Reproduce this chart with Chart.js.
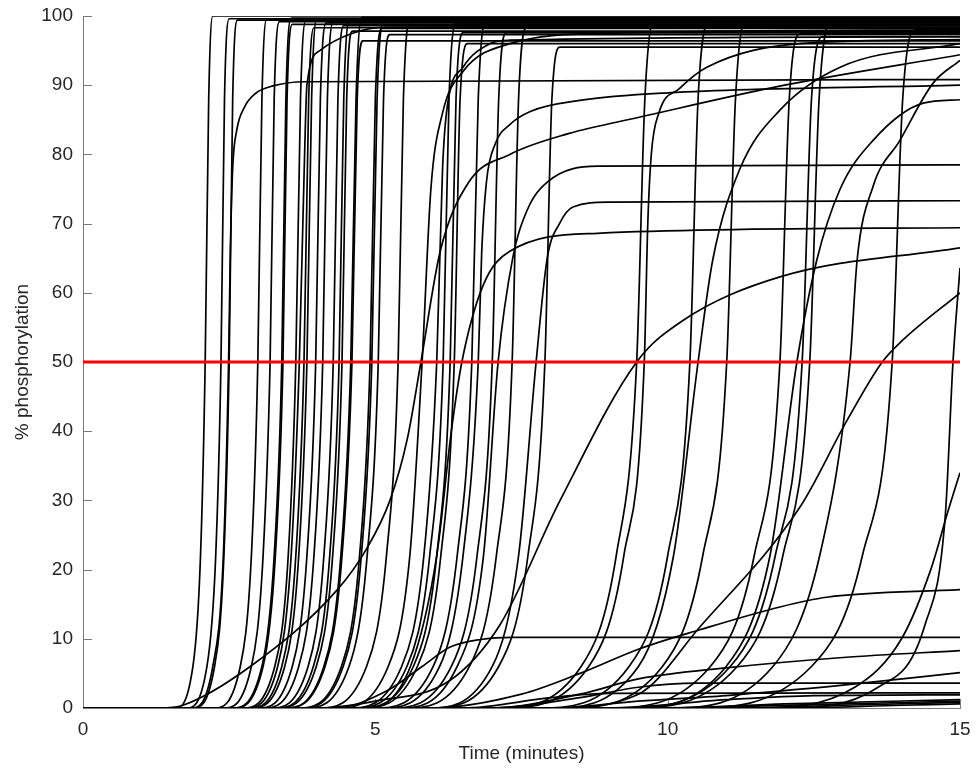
<!DOCTYPE html>
<html>
<head>
<meta charset="utf-8">
<script src="https://cdn.jsdelivr.net/npm/chart.js@4.4.1/dist/chart.umd.min.js"></script>
<style>
  html, body { margin: 0; padding: 0; background: #fff; }
</style>
</head>
<body>
<canvas id="myChart" width="977" height="771"></canvas>
<script>
// axis settings
var xTickValues = [0, 5, 10, 15]
var yTickValues = [0, 10, 20, 30, 40, 50, 60, 70, 80, 90, 100]
var threshold = 50

// each curve is a list of [time (min), % phosphorylation]

// fast switches that go all the way up (sharp top)
var sharpCurves = [
  [[0,0],[1.57,0],[1.88,6],[2.01,22],[2.09,50],[2.15,88],[2.22,100],[15,100]],
  [[0,0],[1.77,0],[2.12,6],[2.27,22],[2.36,50],[2.42,88],[2.50,99.6],[15,99.6]],
  [[0,0],[1.88,0],[2.25,6],[2.41,22],[2.50,50],[2.56,88],[2.64,99.4],[15,99.4]],
  [[0,0],[2.24,0],[2.69,6],[2.88,22],[2.99,50],[3.06,88],[3.14,99.5],[15,99.5]],
  [[0,0],[2.40,0],[2.88,6],[3.08,22],[3.20,50],[3.27,88],[3.36,99.2],[15,99.2]],
  [[0,0],[2.55,0],[3.06,6],[3.27,22],[3.40,50],[3.47,88],[3.56,99.7],[15,99.7]],
  [[0,0],[2.57,0],[3.08,6],[3.29,22],[3.42,50],[3.49,88],[3.58,98.8],[15,98.8]],
  [[0,0],[2.73,0],[3.28,6],[3.51,22],[3.64,50],[3.72,88],[3.81,99.3],[15,99.3]],
  [[0,0],[2.84,0],[3.40,6],[3.64,22],[3.78,50],[3.86,88],[3.95,98.3],[15,98.3]],
  [[0,0],[2.87,0],[3.45,6],[3.69,22],[3.83,50],[3.91,88],[4.00,99.6],[15,99.6]],
  [[0,0],[2.99,0],[3.58,6],[3.83,22],[3.98,50],[4.06,88],[4.16,99.0],[15,99.0]],
  [[0,0],[3.08,0],[3.69,6],[3.95,22],[4.10,50],[4.18,88],[4.28,99.1],[15,99.1]],
  [[0,0],[3.21,0],[3.85,6],[4.12,22],[4.28,50],[4.36,88],[4.46,98.6],[15,98.6]],
  [[0,0],[3.29,0],[3.94,6],[4.22,22],[4.38,50],[4.46,88],[4.56,99.4],[15,99.4]],
  [[0,0],[3.32,0],[3.99,6],[4.27,22],[4.43,50],[4.51,88],[4.61,97.8],[15,97.8]],
  [[0,0],[3.44,0],[4.12,6],[4.41,22],[4.58,50],[4.67,88],[4.77,99.8],[15,99.8]],
  [[0,0],[3.45,0],[4.14,6],[4.43,22],[4.60,50],[4.69,88],[4.79,96.4],[15,96.4]],
  [[0,0],[3.68,0],[4.42,6],[4.73,22],[4.91,50],[5.00,88],[5.11,98.2],[15,98.2]],
  [[0,0],[3.71,0],[4.45,6],[4.76,22],[4.94,50],[5.03,88],[5.14,99.2],[15,99.2]],
  [[0,0],[3.79,0],[4.55,6],[4.86,22],[5.05,50],[5.14,88],[5.25,97.3],[15,97.3]],
  [[0,0],[4.04,0],[4.85,6],[5.19,22],[5.39,50],[5.48,88],[5.60,99.6],[15,99.6]],
  [[0,0],[4.62,0],[5.54,6],[5.93,22],[6.16,50],[6.26,88],[6.38,99.0],[15,99.0]],
  [[0,0],[4.71,0],[5.65,6],[6.05,22],[6.28,50],[6.38,88],[6.51,97.6],[15,97.6]],
  [[0,0],[4.76,0],[5.72,6],[6.12,22],[6.35,50],[6.45,88],[6.58,96.0],[15,96.0]],
  [[0,0],[4.99,0],[5.99,6],[6.40,22],[6.65,50],[6.76,88],[6.89,99.3],[15,99.3]],
  [[0,0],[5.25,0],[6.30,6],[6.74,22],[7.00,50],[7.11,88],[7.24,97.6],[15,97.6]],
  [[0,0],[5.51,0],[6.61,6],[7.07,22],[7.34,50],[7.45,88],[7.59,98.4],[15,98.4]],
  [[0,0],[5.93,0],[7.11,6],[7.61,22],[7.90,50],[8.02,88],[8.16,95.5],[15,95.5]],
  [[0,0],[7.10,0],[8.52,6],[9.12,22],[9.47,50],[9.61,88],[9.77,99.4],[15,99.4]],
  [[0,0],[7.79,0],[9.34,6],[10.00,22],[10.38,50],[10.52,88],[10.70,99.0],[15,99.0]],
  [[0,0],[8.26,0],[9.91,6],[10.60,22],[11.01,50],[11.16,88],[11.34,99.5],[15,99.5]],
  [[0,0],[8.94,0],[10.73,6],[11.48,22],[11.92,50],[12.08,88],[12.27,97.5],[15,97.5]],
  [[0,0],[9.23,0],[11.07,6],[11.84,22],[12.30,50],[12.46,88],[12.66,97.0],[15,97.0]],
  [[0,0],[9.32,0],[11.19,6],[11.97,22],[12.43,50],[12.59,88],[12.79,99.2],[15,99.2]],
  [[0,0],[10.38,0],[12.46,6],[13.33,22],[13.84,50],[14.02,88],[14.23,98.0],[15,98.0]]
]

// switches with a rounded top / lower plateau
var softCurves = [
  [[0,0],[1.85,0],[2.22,6],[2.40,22],[2.49,50],[2.52,66],[2.56,78],[2.63,83.5],[2.76,86.8],[2.95,88.8],[3.25,89.9],[3.80,90.5],[15,90.8]],
  [[0,0],[2.78,0],[3.33,6],[3.56,22],[3.70,50],[3.79,80],[3.83,90],[4.05,95],[4.61,97.5],[5.18,98.4],[15,98.6]],
  [[0,0],[4.35,0],[5.22,6],[5.59,22],[5.80,50],[5.95,75],[6.15,86],[6.50,92],[7.30,96],[9.00,97.5],[15,98]],
  [[0,0],[4.55,0],[5.45,6],[5.83,22],[6.05,50],[6.15,78],[6.23,86.9],[6.50,92.6],[6.96,96],[7.30,96.5],[15,97]],
  [[0,0],[4.80,0],[5.60,6],[6.05,22],[6.30,40],[6.48,50],[6.84,61],[7.30,66],[8.80,68.6],[15,69.4]],
  [[0,0],[5.10,0],[6.10,6],[6.50,22],[6.76,50],[6.82,66],[6.90,76],[7.05,81.5],[7.30,84.3],[7.65,86.2],[8.50,87.8],[10.0,88.9],[15,90]],
  [[0,0],[5.40,0],[6.40,6],[6.85,22],[7.10,50],[7.35,65],[7.60,72],[7.94,76],[8.80,78.3],[15,78.5]],
  [[0,0],[5.90,0],[7.00,6],[7.45,22],[7.75,50],[7.94,65],[8.15,70],[8.38,72.4],[9.00,73.1],[15,73.3]],
  [[0,0],[7.20,0],[8.65,6],[9.25,22],[9.60,50],[9.66,70],[9.72,80],[9.85,86],[10.2,89.5],[10.67,92.6],[12.26,96],[15,96.6]],
  [[0,0],[8.00,0],[9.50,6],[10.10,22],[10.52,50],[10.77,64.7],[11.24,78],[11.92,86.4],[12.95,92.6],[15,96]],
  [[0,0],[9.30,0],[11.0,6],[11.75,22],[12.21,50],[12.55,64.7],[12.95,75],[13.51,82],[14.37,87.4],[15,87.9]],
  [[0,0],[10.0,0],[11.8,6],[12.6,22],[13.12,50],[13.24,64.7],[13.51,75.3],[13.97,82],[14.54,90.3],[15,93.6]]
]

// slow, graded responses
var shallowCurves = [
  [[0,0],[1.30,0],[1.71,0.4],[2.86,6],[4.34,17],[4.85,23],[5.25,30],[5.55,39],[5.78,50],[6.11,66],[6.60,76],[7.30,80],[8.30,83],[9.53,85.4],[12.0,90],[15,94.4]],
  [[0,0],[4.00,0],[5.00,1],[6.28,4],[7.13,12],[8.16,30],[9.47,50],[10.26,56],[11.92,62.3],[15,66.5]],
  [[0,0],[8.00,0],[9.50,2],[10.55,11.7],[12.26,29],[13.07,41.6],[13.67,50],[14.0,53],[15,60]],
  [[0,0],[12.0,0],[13.6,3],[14.4,12],[14.75,28],[14.88,50],[15,63.6]],
  [[0,0],[11.5,0],[13.2,3],[14.0,10],[14.5,20],[14.8,28.6],[15,34]]
]

// curves that stay low
var lowCurves = [
  [[0,0],[6.0,0],[7.5,2],[8.5,5],[9.5,8.5],[10.55,11.3],[11.92,14.6],[12.72,16],[15,17.1]],
  [[0,0],[4.3,0],[5.2,2.5],[5.8,6],[6.28,8.8],[6.8,9.9],[7.35,10.2],[15,10.2]],
  [[0,0],[7.0,0],[8.5,2],[9.5,4.2],[11.0,5.8],[13.0,7.3],[15,8.3]],
  [[0,0],[8.0,0],[9.5,1],[11.0,1.8],[13.0,3.3],[15,5.1]],
  [[0,0],[7.0,0],[8.5,1.5],[9.5,3],[10.5,3.6],[15,3.6]],
  [[0,0],[6.5,0],[8.0,1.5],[9.0,2.1],[15,2.2]],
  [[0,0],[9.0,0],[11.0,1.2],[12.5,1.8],[15,1.9]],
  [[0,0],[10.0,0],[12.0,0.6],[15,1.2]],
  [[0,0],[11.0,0],[13.0,0.4],[15,0.8]],
  [[0,0],[9.5,0],[12.5,0.5],[15,1.0]],
  [[0,0],[12.0,0],[14.0,0.4],[15,0.6]]
]

var textColor = '#262626'
var axisColor = '#7a7a7a'
var fontFamily = '"Liberation Sans", Arial, Helvetica, sans-serif'

function toPoints(curve) {
  return curve.map(function (p) { return { x: p[0], y: p[1] } })
}

var datasets = []
datasets.push({
  label: 'threshold',
  data: [{ x: 0, y: threshold }, { x: 15, y: threshold }],
  borderColor: '#ff0000',
  borderWidth: 3.2,
  order: -1,
})
var allCurves = sharpCurves.concat(softCurves, shallowCurves, lowCurves)
allCurves.forEach(function (c, i) {
  datasets.push({
    label: 'cell ' + (i + 1),
    data: toPoints(c),
    borderColor: '#000000',
    borderWidth: 1.7,
  })
})

// little inward ticks like the original plot
var inwardTicks = {
  id: 'inwardTicks',
  beforeDatasetsDraw(chart) {
    var ctx = chart.ctx, area = chart.chartArea
    var xs = chart.scales.x, ys = chart.scales.y
    ctx.save()
    ctx.strokeStyle = axisColor
    ctx.lineWidth = 1
    ctx.beginPath()
    yTickValues.forEach(function (v) {
      var py = Math.round(ys.getPixelForValue(v)) + 0.5
      ctx.moveTo(area.left, py)
      ctx.lineTo(area.left + 9, py)
    })
    xTickValues.forEach(function (v) {
      var px = Math.round(xs.getPixelForValue(v)) + 0.5
      ctx.moveTo(px, area.bottom)
      ctx.lineTo(px, area.bottom - 9)
    })
    ctx.stroke()
    ctx.restore()
  },
}

var ctx = document.getElementById('myChart').getContext('2d')
var myChart = new Chart(ctx, {
  type: 'line',
  data: { datasets: datasets },
  options: {
    responsive: false,
    animation: false,
    devicePixelRatio: 1,
    layout: { padding: { left: 4, right: 17, top: 16, bottom: 0 } },
    elements: {
      point: { radius: 0 },
      line: { cubicInterpolationMode: 'monotone', fill: false },
    },
    plugins: {
      legend: { display: false },
      tooltip: { enabled: false },
    },
    scales: {
      x: {
        type: 'linear',
        min: 0,
        max: 15,
        afterFit: function (scale) {
          scale.height = 63
          scale.paddingLeft = 0
          scale.paddingRight = 0
        },
        afterBuildTicks: function (scale) {
          scale.ticks = xTickValues.map(function (v) { return { value: v } })
        },
        grid: { display: false, drawTicks: false },
        border: { display: true, color: axisColor, width: 1 },
        ticks: { color: textColor, padding: 10, font: { family: fontFamily, size: 19 } },
        title: {
          display: true,
          text: 'Time (minutes)',
          color: textColor,
          font: { family: fontFamily, size: 19 },
          padding: { top: 0, bottom: 6 },
        },
      },
      y: {
        min: 0,
        max: 100,
        afterFit: function (scale) {
          scale.width = 79
          scale.paddingTop = 0
          scale.paddingBottom = 0
        },
        afterBuildTicks: function (scale) {
          scale.ticks = yTickValues.map(function (v) { return { value: v } })
        },
        grid: { display: false, drawTicks: false },
        border: { display: true, color: axisColor, width: 1 },
        ticks: { color: textColor, padding: 10, font: { family: fontFamily, size: 19 } },
        title: {
          display: true,
          text: '% phosphorylation',
          color: textColor,
          font: { family: fontFamily, size: 19 },
          padding: { top: 7, bottom: 0 },
        },
      },
    },
  },
  plugins: [inwardTicks],
})
</script>
</body>
</html>
